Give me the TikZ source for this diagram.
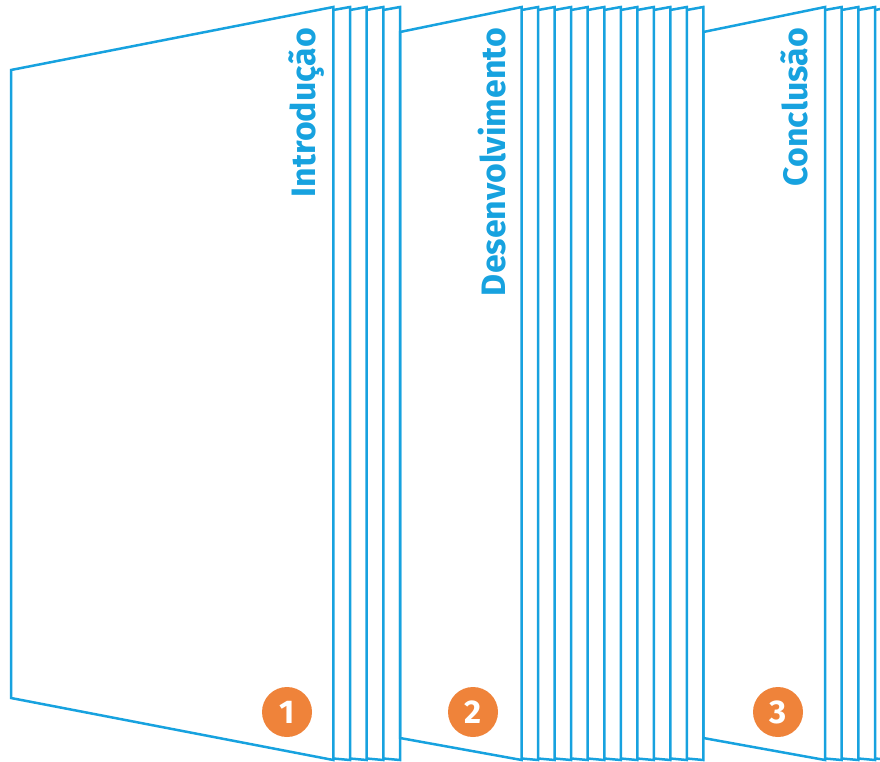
\documentclass[tikz,border=0pt]{standalone}
\usepackage{fontspec}
\setmainfont{Fira Sans}
\definecolor{pageblue}{HTML}{17A2DF}
\definecolor{badgeorange}{HTML}{EF833A}
\tikzset{
  edge/.style={draw=pageblue, line width=2.5bp, line join=miter},
  sheet/.style={draw=pageblue, line width=2.5bp, line join=miter},
  spine/.style={text=pageblue, font=\fontsize{34}{34}\selectfont\bfseries,
                rotate=90, anchor=base east, inner sep=0pt},
  badge/.style={circle, fill=badgeorange, minimum size=50bp, inner sep=0pt,
                text=white, font=\fontsize{33}{33}\selectfont\bfseries},
}
% sheet behind a cover: top edge slightly raised to the right
\newcommand\sheetstrip[2]{%
  \path[sheet] (#1,10) -- (#2,7) -- (#2,760) -- (#1,758.5);}
\begin{document}
\begin{tikzpicture}[x=1bp, y=-1bp]
\useasboundingbox (0,0) rectangle (880,762);
\clip (0,0) rectangle (880,762);

% part 1: cover and stacked sheets
\path[edge] (11,70) -- (333.3,7) -- (333.3,760) -- (11,698) -- cycle;
\foreach \a/\b in {333.3/350, 350/366.7, 366.7/383.3, 383.3/400}
  {\sheetstrip{\a}{\b}}

% part 2: cover and stacked sheets
\path[edge] (400,32) -- (521.7,7) -- (521.7,760) -- (400,738) -- cycle;
\foreach \k in {0,...,10}
  {\pgfmathsetmacro\a{521.7+16.51*\k}\pgfmathsetmacro\b{521.7+16.51*(\k+1)}%
   \sheetstrip{\a}{\b}}

% part 3: cover and stacked sheets
\path[edge] (703.3,32) -- (825,7) -- (825,760) -- (703.3,738) -- cycle;
\foreach \k in {0,...,3}
  {\pgfmathsetmacro\a{825+16.67*\k}\pgfmathsetmacro\b{825+16.67*(\k+1)}%
   \sheetstrip{\a}{\b}}

% spine titles
\node[spine] (intro) at (315,28) {Introdução};
\node[spine] (desenv) at (505,28) {Desenvolvimento};
\node[spine] (concl) at (807,28) {Conclusão};

% numbered badges
\node[badge] (n1) at (287,712) {1};
\node[badge] (n2) at (473,712) {2};
\node[badge] (n3) at (778,712) {3};
\end{tikzpicture}
\end{document}
